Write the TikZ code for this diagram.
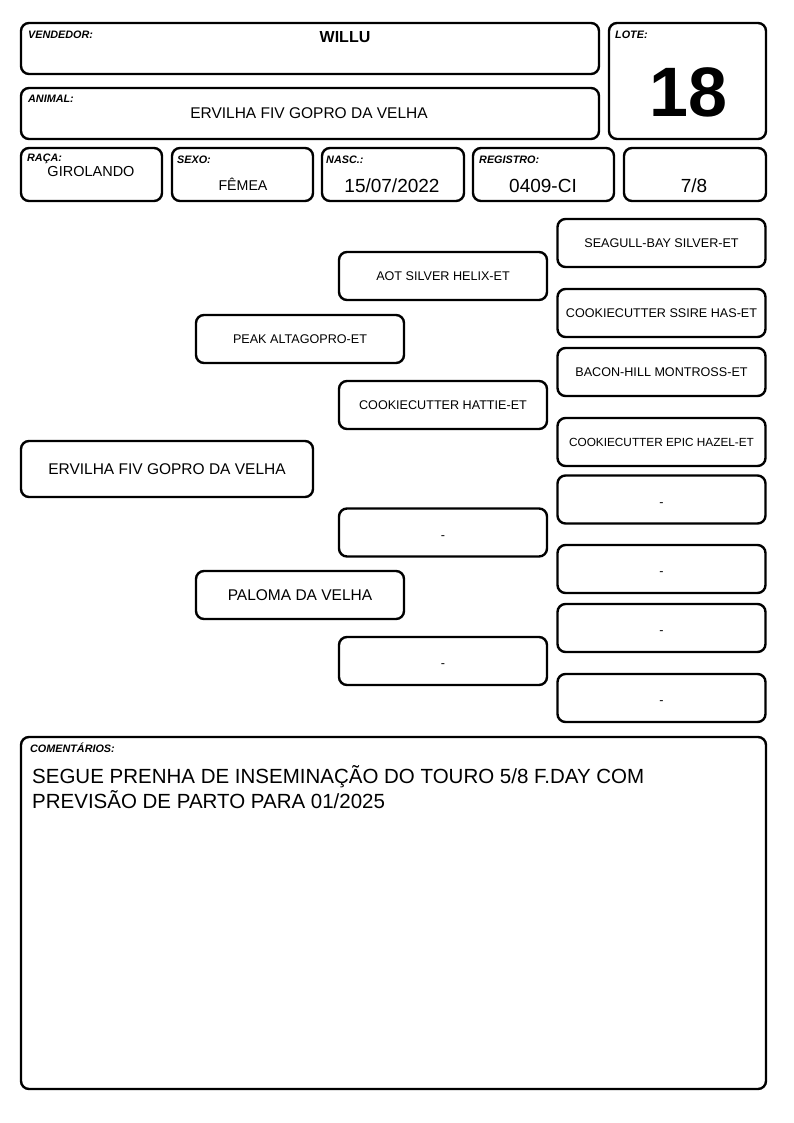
\documentclass[tikz,border=0pt]{standalone}
\usepackage{fontspec}
\setmainfont{Liberation Sans}
\begin{document}
\begin{tikzpicture}[x=1pt,y=-1pt,
  box/.style={draw=black,line width=2.4pt,rounded corners=8pt,inner sep=0pt},
  lab/.style={anchor=base west,inner sep=0pt,font=\fontsize{10.8}{13}\selectfont\bfseries\itshape},
  val/.style={inner sep=0pt},
  pbox/.style={box,minimum width=208pt,minimum height=48pt,align=center,font=\fontsize{12.6}{15}\selectfont},
  emptybox/.style={pbox,text height=13pt,text depth=0pt},
  bigbox/.style={box,minimum width=292pt,minimum height=56pt,align=center,font=\fontsize{15.5}{18}\selectfont}]
\useasboundingbox[fill=white] (0,0) rectangle (794,1123);
% header boxes
\node[box,minimum width=578pt,minimum height=51pt] (vend) at (310,48.5) {};
\node[box,minimum width=578pt,minimum height=51pt] (anim) at (310,113.5) {};
\node[box,minimum width=157pt,minimum height=116pt] (lote) at (687.5,81) {};
\node[box,minimum width=141pt,minimum height=53pt] (raca) at (91.5,174.5) {};
\node[box,minimum width=141pt,minimum height=53pt] (sexo) at (242.5,174.5) {};
\node[box,minimum width=142pt,minimum height=53pt] (nasc) at (393,174.5) {};
\node[box,minimum width=141pt,minimum height=53pt] (regi) at (543.5,174.5) {};
\node[box,minimum width=142pt,minimum height=53pt] (grau) at (695,174.5) {};
% labels
\node[lab] (lvend) at (28,39) {VENDEDOR:};
\node[lab] (lanim) at (28,103) {ANIMAL:};
\node[lab] (llote) at (615,39) {LOTE:};
\node[lab] (lraca) at (27,162) {RAÇA:};
\node[lab] (lsexo) at (177,164) {SEXO:};
\node[lab] (lnasc) at (326,164) {NASC.:};
\node[lab] (lregi) at (479,164) {REGISTRO:};
% values
\node[val,font=\fontsize{16}{19}\selectfont\bfseries] (tvend) at (345,37) {WILLU};
\node[val,font=\fontsize{15.5}{18}\selectfont] (tanim) at (309,113) {ERVILHA FIV GOPRO DA VELHA};
\node[val,font=\fontsize{70}{80}\selectfont\bfseries] (tlote) at (688,92) {18};
\node[val,font=\fontsize{14.5}{17}\selectfont] (traca) at (91,172) {GIROLANDO};
\node[val,font=\fontsize{14.2}{17}\selectfont] (tsexo) at (243,184) {FÊMEA};
\node[val,font=\fontsize{19}{22}\selectfont] (tnasc) at (392,186) {15/07/2022};
\node[val,font=\fontsize{19}{22}\selectfont] (tregi) at (543,186) {0409-CI};
\node[val,font=\fontsize{19}{22}\selectfont] (tgrau) at (694,186) {7/8};
% pedigree
\node[bigbox] (p0) at (167,469) {ERVILHA FIV GOPRO DA VELHA};
\node[pbox] (p1) at (300,339) {PEAK ALTAGOPRO-ET};
\node[pbox] (p2) at (300,595) {\fontsize{15.5}{18}\selectfont PALOMA DA VELHA};
\node[pbox] (p3) at (443,276) {AOT SILVER HELIX-ET};
\node[pbox] (p4) at (443,405) {COOKIECUTTER HATTIE-ET};
\node[emptybox] (p5) at (443,532.5) {-};
\node[emptybox] (p6) at (443,661) {-};
\node[pbox] (p7) at (661.5,243) {SEAGULL-BAY SILVER-ET};
\node[pbox] (p8) at (661.5,313) {COOKIECUTTER SSIRE HAS-ET};
\node[pbox] (p9) at (661.5,372) {BACON-HILL MONTROSS-ET};
\node[pbox] (p10) at (661.5,442) {\fontsize{11.8}{14}\selectfont COOKIECUTTER EPIC HAZEL-ET};
\node[emptybox] (p11) at (661.5,499.5) {-};
\node[emptybox] (p12) at (661.5,569) {-};
\node[emptybox] (p13) at (661.5,628) {-};
\node[emptybox] (p14) at (661.5,698) {-};
% comments
\node[box,minimum width=745pt,minimum height=352pt] (com) at (393.5,913) {};
\node[lab] (lcom) at (30,752) {COMENTÁRIOS:};
\node[val,anchor=north west,align=left,font=\fontsize{20.5}{25}\selectfont] (tcom) at (32,765) {SEGUE PRENHA DE INSEMINAÇÃO DO TOURO 5/8 F.DAY COM\\PREVISÃO DE PARTO PARA 01/2025};
\end{tikzpicture}
\end{document}
